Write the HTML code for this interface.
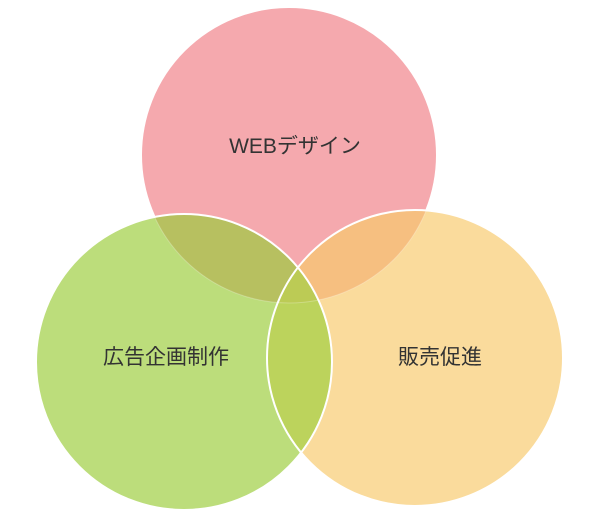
<!DOCTYPE html>
<html><head><meta charset="utf-8"><style>
html,body{margin:0;padding:0;background:#fff;width:600px;height:520px;overflow:hidden}
</style></head><body>
<svg width="600" height="520" viewBox="0 0 600 520" xmlns="http://www.w3.org/2000/svg">
<defs>
<clipPath id="cT"><circle cx="289" cy="155" r="148"/></clipPath>
<clipPath id="cL"><circle cx="184" cy="362" r="148"/></clipPath>
<clipPath id="cR"><circle cx="415" cy="358" r="148"/></clipPath>
</defs>
<circle cx="289" cy="155" r="148" fill="#f5a9ae" stroke="#fff" stroke-width="2"/>
<circle cx="415" cy="358" r="148" fill="#fadb9c"/>
<circle cx="184" cy="362" r="148" fill="#bcdd7b"/>
<g clip-path="url(#cT)"><circle cx="415" cy="358" r="148" fill="#f6bf80"/><circle cx="184" cy="362" r="148" fill="#b7c060"/></g>
<g clip-path="url(#cR)"><circle cx="184" cy="362" r="148" fill="#bcd35c"/></g>
<g clip-path="url(#cT)"><g clip-path="url(#cR)"><circle cx="184" cy="362" r="148" fill="#bccb55"/></g></g>
<circle cx="289" cy="155" r="148" fill="none" stroke="#fff" stroke-opacity="0.25" stroke-width="1"/>
<g fill="none" stroke="#fff" stroke-width="2">
<circle cx="415" cy="358" r="148"/>
<circle cx="184" cy="362" r="148"/>
</g>
<g font-family="'Liberation Sans','Noto Sans CJK JP',sans-serif" font-size="21" fill="#333" text-anchor="middle">
<text x="295" y="153">WEBデザイン</text>
<text x="166" y="364">広告企画制作</text>
<text x="440" y="364">販売促進</text>
</g>
</svg>
</body></html>
